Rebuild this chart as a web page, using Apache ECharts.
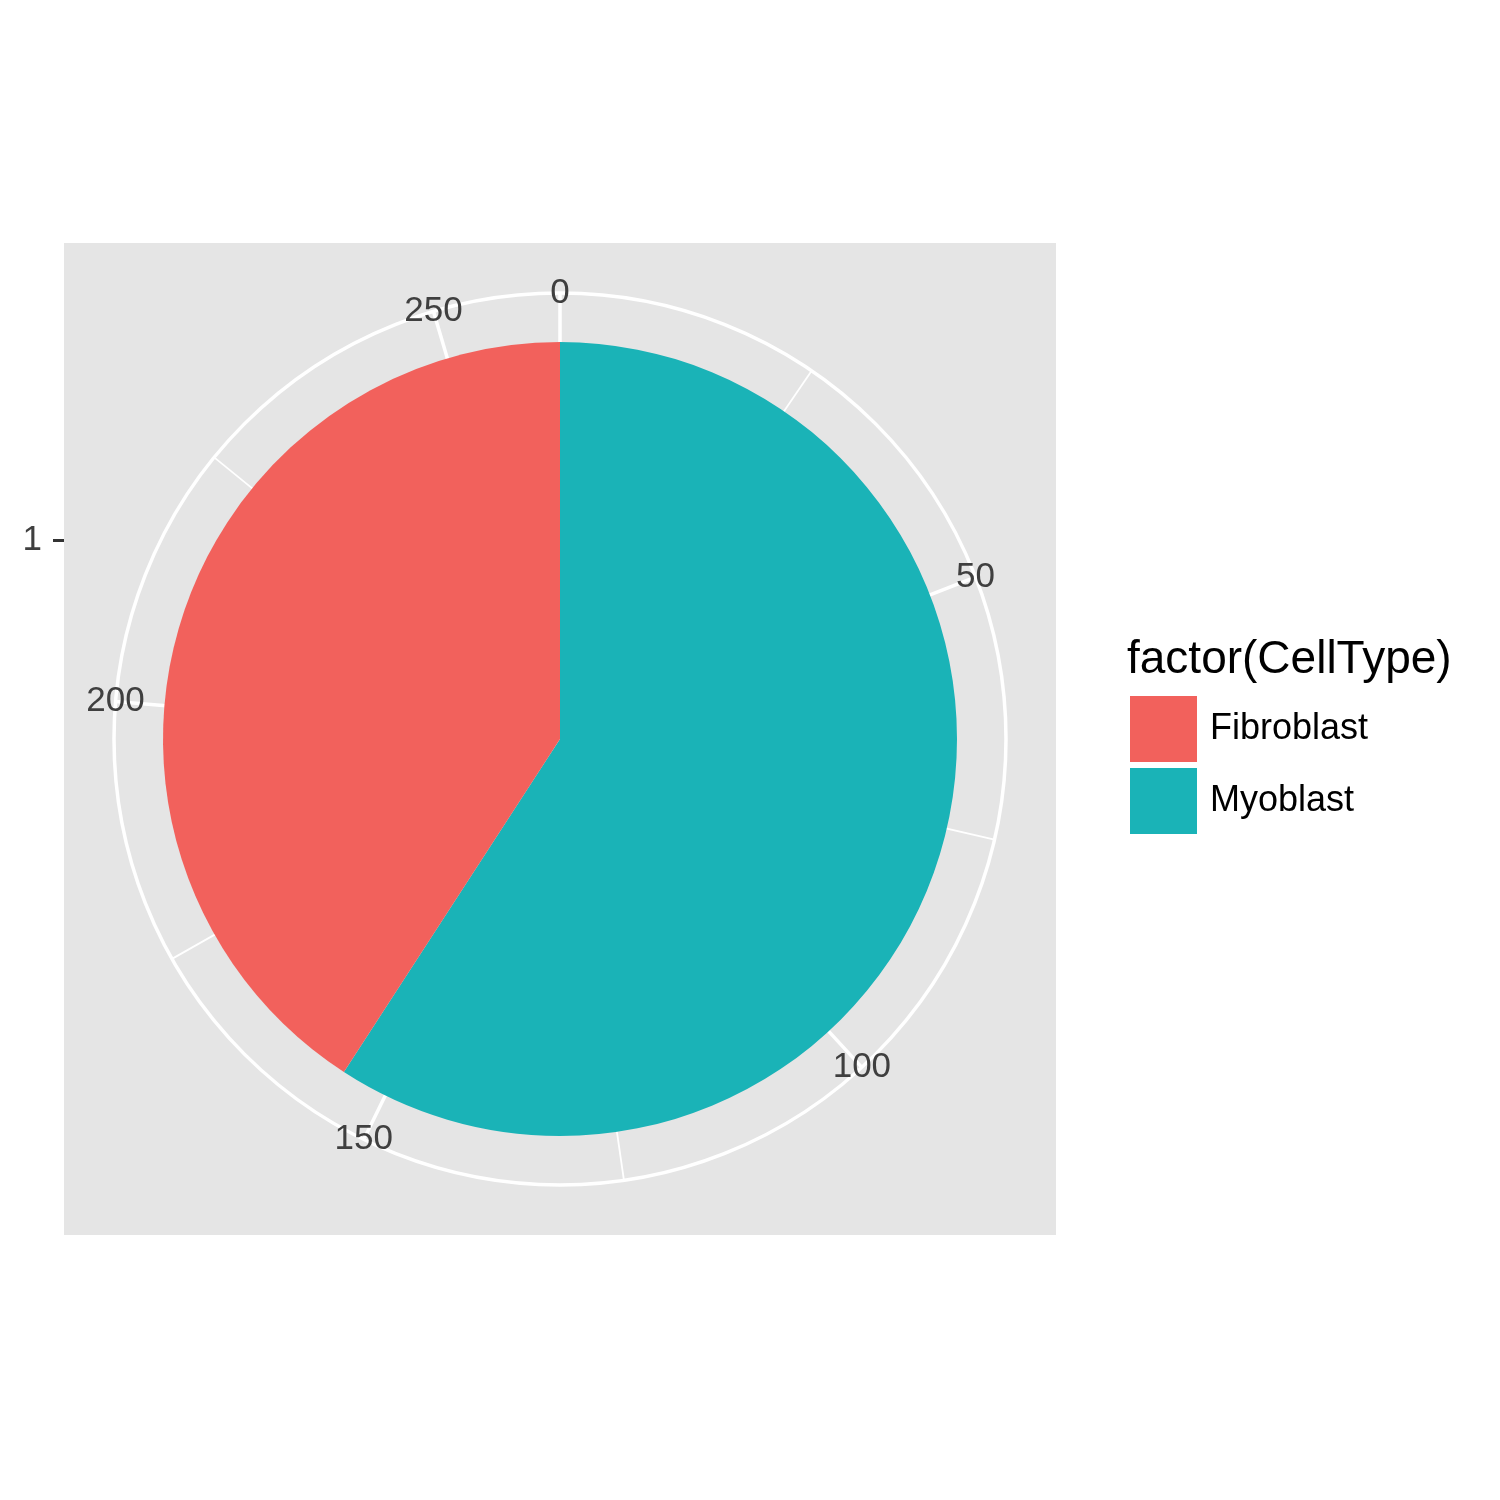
<!DOCTYPE html>
<html>
<head>
<meta charset="utf-8">
<script src="https://cdn.jsdelivr.net/npm/echarts@6/dist/echarts.min.js"></script>
<style>
html,body{margin:0;padding:0;background:#ffffff;}
#chart{width:1500px;height:1500px;}
</style>
</head>
<body>
<div id="chart"></div>
<script>
// ---- data ----
const xCategories = ['1'];
const legendOrder = ['Fibroblast', 'Myoblast'];
const stackOrder = ['Myoblast', 'Fibroblast'];
const countMyoblast = [155];
const countFibroblast = [107];
const thetaTickLabels = [0, 50, 100, 150, 200, 250];
const thetaMajorStep = 50;
const thetaMinorStep = 25;
const legendTitle = 'factor(CellType)';

// ---- derived ----
const total = countMyoblast[0] + countFibroblast[0];
const seriesValues = { Myoblast: countMyoblast, Fibroblast: countFibroblast };
const colors = { Fibroblast: '#F2615C', Myoblast: '#1AB3B7' };

const CX = 560, CY = 739;
const FONT = 'Liberation Sans, Arial, Helvetica, sans-serif';
const AXIS_TEXT = '#3F3F3F';

const chart = echarts.init(document.getElementById('chart'), null, { renderer: 'canvas' });

const option = {
  animation: false,
  backgroundColor: '#FFFFFF',
  textStyle: { fontFamily: FONT },
  title: {
    text: legendTitle,
    left: 1127,
    top: 637,
    padding: 0,
    textStyle: { fontSize: 46, fontWeight: 'normal', color: '#000000', fontFamily: FONT }
  },
  legend: {
    data: legendOrder,
    orient: 'vertical',
    left: 1130,
    top: 696,
    padding: 0,
    itemWidth: 67,
    itemHeight: 66,
    itemGap: 6,
    icon: 'rect',
    selectedMode: false,
    textStyle: { fontSize: 36, color: '#000000', fontFamily: FONT, padding: [0, 0, 0, 8] }
  },
  grid: [
    { left: 64, top: 243, width: 992, height: 992, show: true, backgroundColor: '#E5E5E5', borderWidth: 0, z: -1 },
    { left: 64, top: 342, width: 10, height: 397, show: false }
  ],
  xAxis: [
    { gridIndex: 0, type: 'value', show: false },
    { gridIndex: 1, type: 'value', show: false }
  ],
  yAxis: [
    { gridIndex: 0, type: 'value', show: false },
    {
      gridIndex: 1, type: 'category', data: xCategories,
      axisLine: { show: false },
      axisTick: { show: true, length: 11, alignWithLabel: true, lineStyle: { color: '#333333', width: 3 } },
      axisLabel: { margin: 22, fontSize: 35, color: AXIS_TEXT, fontFamily: FONT },
      splitLine: { show: false }
    }
  ],
  polar: [
    { center: [CX, CY], radius: 397 },
    { center: [CX, CY], radius: 446 },
    { center: [CX, CY], radius: 446 }
  ],
  radiusAxis: [
    { polarIndex: 0, type: 'category', data: xCategories, show: false,
      axisLine: { show: false }, axisTick: { show: false }, axisLabel: { show: false }, splitLine: { show: false } },
    { polarIndex: 1, type: 'value', min: 0, max: 1, show: false,
      axisLine: { show: false }, axisTick: { show: false }, axisLabel: { show: false }, splitLine: { show: false } },
    { polarIndex: 2, type: 'value', min: 0, max: 1, show: false,
      axisLine: { show: false }, axisTick: { show: false }, axisLabel: { show: false }, splitLine: { show: false } }
  ],
  angleAxis: [
    { polarIndex: 0, type: 'value', min: 0, max: total, startAngle: 90, clockwise: true, show: false,
      axisLine: { show: false }, axisTick: { show: false }, axisLabel: { show: false }, splitLine: { show: false } },
    { polarIndex: 1, type: 'value', min: 0, max: total, interval: thetaMinorStep, startAngle: 90, clockwise: true, z: 1,
      axisLine: { show: true, lineStyle: { color: '#FFFFFF', width: 3.5 } },
      axisTick: { show: false }, axisLabel: { show: false },
      splitLine: { show: true, lineStyle: { color: '#FFFFFF', width: 1.8 } } },
    { polarIndex: 2, type: 'value', min: 0, max: total, interval: thetaMajorStep, startAngle: 90, clockwise: true, z: 1,
      axisLine: { show: false },
      axisTick: { show: false }, axisLabel: { show: false },
      splitLine: { show: true, lineStyle: { color: '#FFFFFF', width: 3.5 } } }
  ],
  series: [
    ...stackOrder.map(name => ({
      name: name,
      type: 'bar',
      coordinateSystem: 'polar',
      polarIndex: 0,
      stack: 'cells',
      barCategoryGap: '0%',
      data: seriesValues[name],
      itemStyle: { color: colors[name] },
      emphasis: { disabled: true },
      silent: true,
      z: 2
    })),
    {
      name: 'thetaLabels',
      type: 'scatter',
      coordinateSystem: 'polar',
      polarIndex: 1,
      symbolSize: 0.1,
      itemStyle: { color: '#E5E5E5', opacity: 1 },
      data: thetaTickLabels.map(t => [1, t]),
      label: {
        show: true,
        position: 'inside',
        align: 'center',
        verticalAlign: 'middle',
        formatter: p => String(p.value[1]),
        fontSize: 35,
        color: AXIS_TEXT,
        opacity: 1,
        fontFamily: FONT
      },
      emphasis: { disabled: true },
      silent: true,
      z: 5
    }
  ]
};

chart.setOption(option);
</script>
</body>
</html>
